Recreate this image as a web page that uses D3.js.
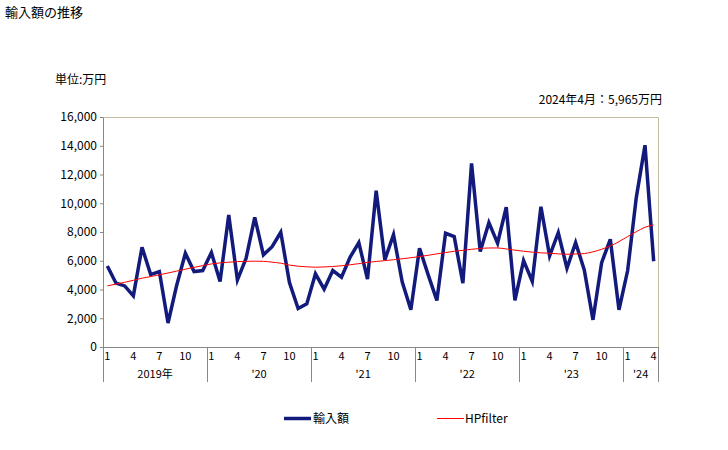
<!DOCTYPE html>
<html>
<head>
<meta charset="utf-8">
<script src="https://cdn.jsdelivr.net/npm/d3@7"></script>
<style>
body { margin: 0; background: #fff; }
svg text { font-family: "Noto Sans CJK JP", "Liberation Sans", sans-serif; fill: #000; }
</style>
</head>
<body>
<svg class="chart"></svg>
<script>
const width = 728;
const height = 450;
const margin = { top: 117, left: 103, bottom: 103, right: 70 };

// data
const years = ["2019年", "'20", "'21", "'22", "'23", "'24"];
const yearMonths = [12, 12, 12, 12, 12, 4];
const monthTicks = [1, 4, 7, 10];
const imports = [
    5640, 4440, 4250, 3560, 6940, 5040, 5250, 1670, 4300, 6520, 5250, 5320,
    6570, 4560, 9180, 4670, 6170, 9020, 6410, 6980, 7980, 4480, 2680, 3000,
    5090, 4020, 5320, 4860, 6250, 7260, 4720, 10870, 6060, 7820, 4530, 2590,
    6870, 5020, 3240, 7910, 7680, 4440, 12770, 6640, 8650, 7220, 9720, 3240,
    6010, 4560, 9760, 6340, 7950, 5480, 7260, 5360, 1890, 5870, 7490, 2590,
    5320, 10410, 14040, 5965
];
const hpfilter = [
    4250, 4380, 4500, 4640, 4790, 4900, 5020, 5150, 5280, 5410, 5540, 5660,
    5780, 5850, 5900, 5940, 5960, 5970, 5960, 5900, 5830, 5700, 5620, 5580,
    5550, 5570, 5600, 5650, 5720, 5800, 5890, 5950, 6010, 6070, 6140, 6210,
    6290, 6380, 6480, 6570, 6660, 6720, 6800, 6850, 6890, 6890, 6820, 6740,
    6660, 6600, 6550, 6520, 6480, 6450, 6470, 6500, 6620, 6800, 7030, 7330,
    7680, 8020, 8330, 8490
];
const yTicks = [0, 2000, 4000, 6000, 8000, 10000, 12000, 14000, 16000];

// month index list
let months = [];
years.forEach((y, i) => {
    for (let m = 1; m <= yearMonths[i]; m++) months.push({ year: i, month: m });
});

const w = width - margin.left - margin.right;
const h = height - margin.top - margin.bottom;

let svg = d3.select("svg.chart")
    .attr("width", width)
    .attr("height", height);

svg.append("text").attr("x", 5).attr("y", 17).style("font-size", "13px").text("輸入額の推移");
svg.append("text").attr("x", 55).attr("y", 84).style("font-size", "12px").text("単位:万円");
svg.append("text").attr("x", 662).attr("y", 104).attr("text-anchor", "end")
    .style("font-size", "12px").text("2024年4月：5,965万円");

let g = svg.append("g").attr("transform", `translate(${margin.left}, ${margin.top})`);

let x = d3.scaleBand().domain(d3.range(months.length)).range([0, w]);
let y = d3.scaleLinear().domain([0, 16000]).range([h, 0]);

// frame top/right
g.append("path")
    .attr("d", `M0,0.5H${w}.5V${h}`)
    .attr("fill", "none")
    .attr("stroke", "#c4bc9c");

// y axis
let yAxis = g.append("g")
    .call(d3.axisLeft(y).tickValues(yTicks).tickSize(3).tickSizeOuter(0).tickFormat(d3.format(",")));
yAxis.select(".domain").attr("stroke", "#888");
yAxis.selectAll(".tick line").attr("stroke", "#888");
yAxis.selectAll("text").style("font-size", "12px").attr("x", -6);

// x axis
g.append("line").attr("x1", 0).attr("x2", w).attr("y1", h + 0.5).attr("y2", h + 0.5).attr("stroke", "#888");

let xc = i => x(i) + x.bandwidth() / 2;

g.selectAll(".mlabel")
    .data(months.map((d, i) => ({ ...d, i })).filter(d => monthTicks.includes(d.month)))
    .enter().append("text")
    .attr("class", "mlabel")
    .attr("x", d => xc(d.i))
    .attr("y", h + 13)
    .attr("text-anchor", "middle")
    .style("font-size", "11px")
    .text(d => d.month);

let starts = [];
let s = 0;
yearMonths.forEach(n => { starts.push(s); s += n; });

g.selectAll(".ysep")
    .data(starts.concat([months.length]))
    .enter().append("line")
    .attr("x1", d => Math.round(d === months.length ? w : x(d)) + 0.5)
    .attr("x2", d => Math.round(d === months.length ? w : x(d)) + 0.5)
    .attr("y1", h)
    .attr("y2", h + 35)
    .attr("stroke", "#888");

g.selectAll(".ylabel")
    .data(years)
    .enter().append("text")
    .attr("x", (d, i) => (x(starts[i]) + (i === years.length - 1 ? w : x(starts[i] + yearMonths[i]))) / 2)
    .attr("y", h + 31)
    .attr("text-anchor", "middle")
    .style("font-size", "11px")
    .text(d => d);

// lines
let line = d3.line().x((d, i) => xc(i)).y(d => y(d));

g.append("path")
    .datum(imports)
    .attr("fill", "none")
    .attr("stroke", "#121a7c")
    .attr("stroke-width", 3.5)
    .attr("stroke-linejoin", "miter")
    .attr("d", line);

g.append("path")
    .datum(hpfilter)
    .attr("fill", "none")
    .attr("stroke", "#ff0000")
    .attr("stroke-width", 1)
    .attr("d", d3.line().curve(d3.curveMonotoneX).x((d, i) => xc(i)).y(d => y(d)));

// legend
let legend = svg.append("g");
legend.append("line").attr("x1", 284).attr("x2", 311).attr("y1", 418.5).attr("y2", 418.5)
    .attr("stroke", "#121a7c").attr("stroke-width", 3.5);
legend.append("text").attr("x", 313).attr("y", 423).style("font-size", "12px").text("輸入額");
legend.append("line").attr("x1", 437).attr("x2", 464).attr("y1", 418.5).attr("y2", 418.5)
    .attr("stroke", "#ff0000").attr("stroke-width", 1);
legend.append("text").attr("x", 465).attr("y", 423).style("font-size", "12px").text("HPfilter");
</script>
</body>
</html>
